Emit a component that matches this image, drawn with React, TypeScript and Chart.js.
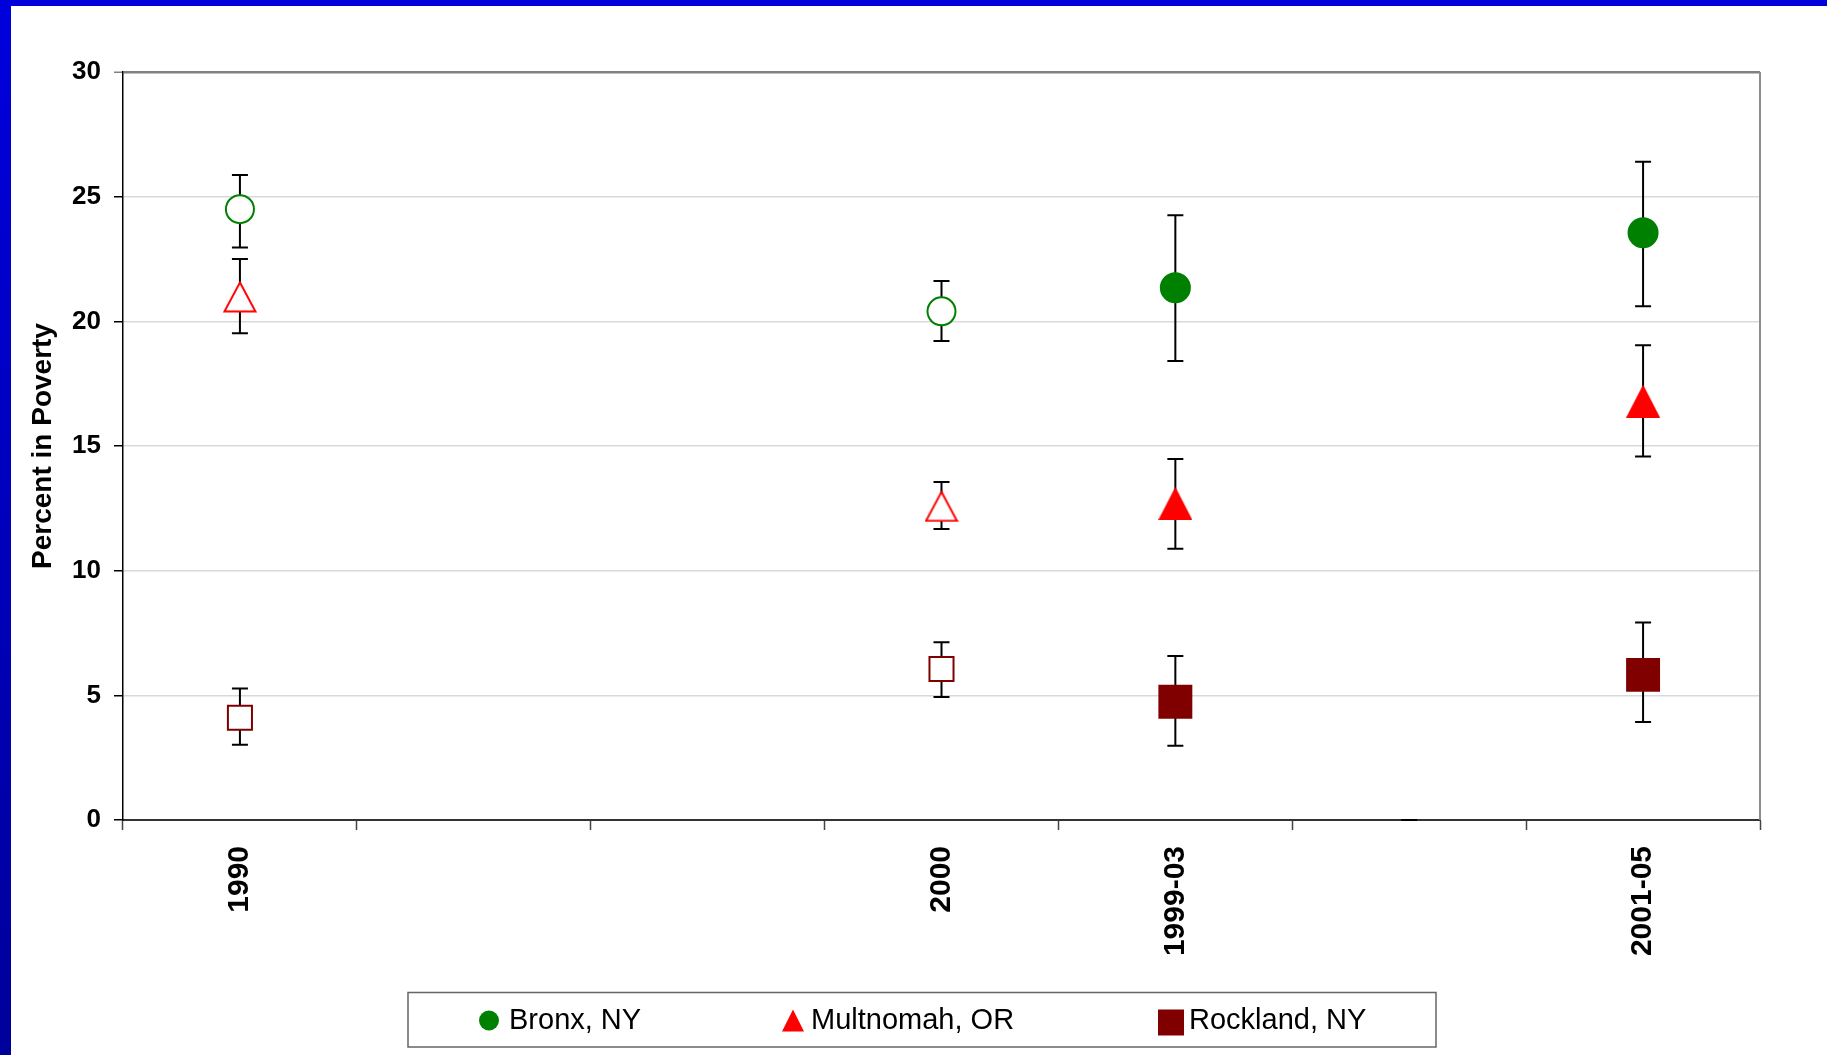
import React, { useEffect, useRef } from 'react';
import { Chart, registerables } from 'chart.js';

Chart.register(...registerables);

// ---------- data ----------
const categories = ['1990', '', '', '2000', '1999-03', '', '2001-05'];
// decennial census points are drawn with open markers, survey estimates filled
const openMarker = [true, false, false, true, false, false, false];

const seriesNames = ['Bronx, NY', 'Multnomah, OR', 'Rockland, NY'];

const bronxValues = [24.5, null, null, 20.4, 21.35, null, 23.55];
const bronxUpper = [25.87, null, null, 21.62, 24.25, null, 26.4];
const bronxLower = [22.96, null, null, 19.21, 18.41, null, 20.6];

const multnomahValues = [21.0, null, null, 12.6, 12.7, null, 16.8];
const multnomahUpper = [22.5, null, null, 13.56, 14.48, null, 19.04];
const multnomahLower = [19.52, null, null, 11.67, 10.88, null, 14.58];

const rocklandValues = [4.1, null, null, 6.06, 4.74, null, 5.82];
const rocklandUpper = [5.27, null, null, 7.13, 6.58, null, 7.92];
const rocklandLower = [3.02, null, null, 4.93, 2.98, null, 3.93];

// a stray zero-valued point with a zero-width error bar in the empty slot
const blankValues = [null, null, null, null, null, 0, null];
const blankUpper = [null, null, null, null, null, 0, null];
const blankLower = [null, null, null, null, null, 0, null];

const yMin = 0;
const yMax = 30;
const yStep = 5;

// ---------- styles ----------
const GREEN = '#008000';
const RED = '#ff0000';
const MAROON = '#800000';
const FONT = "'Liberation Sans', Arial, Helvetica, sans-serif";

const errorBounds = [
  { upper: bronxUpper, lower: bronxLower },
  { upper: multnomahUpper, lower: multnomahLower },
  { upper: rocklandUpper, lower: rocklandLower },
  { upper: blankUpper, lower: blankLower },
];

function makeTriangle(fill: string, stroke: string | null, w: number, h: number) {
  const c = document.createElement('canvas');
  c.width = w;
  c.height = h;
  const g = c.getContext('2d') as CanvasRenderingContext2D;
  const side = stroke ? 1.5 : 0;
  const apex = stroke ? 2.5 : 0;
  g.beginPath();
  g.moveTo(w / 2, apex);
  g.lineTo(w - side, h - side);
  g.lineTo(side, h - side);
  g.closePath();
  g.fillStyle = fill;
  g.fill();
  if (stroke) {
    g.lineWidth = 2;
    g.strokeStyle = stroke;
    g.stroke();
  }
  return c;
}

const errorBarPlugin = {
  id: 'errorBars',
  beforeDatasetsDraw(chart: any) {
    const ctx = chart.ctx as CanvasRenderingContext2D;
    const yScale = chart.scales.y;
    ctx.save();
    ctx.strokeStyle = '#000';
    ctx.lineWidth = 2;
    errorBounds.forEach((b, di) => {
      const meta = chart.getDatasetMeta(di);
      meta.data.forEach((pt: any, j: number) => {
        const up = b.upper[j];
        const lo = b.lower[j];
        if (up == null || lo == null) return;
        const x = pt.x;
        const yU = yScale.getPixelForValue(up);
        const yL = yScale.getPixelForValue(lo);
        ctx.beginPath();
        ctx.moveTo(x, yU);
        ctx.lineTo(x, yL);
        ctx.moveTo(x - 8, yU);
        ctx.lineTo(x + 8, yU);
        ctx.moveTo(x - 8, yL);
        ctx.lineTo(x + 8, yL);
        ctx.stroke();
      });
    });
    // right frame edge
    const a = chart.chartArea;
    ctx.strokeStyle = '#8c8c8c';
    ctx.lineWidth = 2;
    ctx.beginPath();
    ctx.moveTo(a.right, a.top);
    ctx.lineTo(a.right, a.bottom);
    ctx.stroke();
    ctx.restore();
  },
};

const legendPlugin = {
  id: 'boxLegend',
  afterDraw(chart: any) {
    const ctx = chart.ctx as CanvasRenderingContext2D;
    ctx.save();
    ctx.strokeStyle = '#666';
    ctx.lineWidth = 1.5;
    ctx.strokeRect(408, 992.5, 1028, 54.5);

    const cy = 1020.5;
    // Bronx marker
    ctx.fillStyle = GREEN;
    ctx.beginPath();
    ctx.arc(489, cy, 10, 0, Math.PI * 2);
    ctx.fill();
    // Multnomah marker
    ctx.fillStyle = RED;
    ctx.beginPath();
    ctx.moveTo(793, cy - 11);
    ctx.lineTo(804, cy + 11);
    ctx.lineTo(782, cy + 11);
    ctx.closePath();
    ctx.fill();
    // Rockland marker
    ctx.fillStyle = MAROON;
    ctx.fillRect(1158, cy - 11, 26, 26);

    ctx.fillStyle = '#000';
    ctx.font = `29px ${FONT}`;
    ctx.textBaseline = 'middle';
    ctx.textAlign = 'left';
    ctx.fillText(seriesNames[0], 509, cy);
    ctx.fillText(seriesNames[1], 811, cy);
    ctx.fillText(seriesNames[2], 1189, cy);
    ctx.restore();
  },
};

export default function App() {
  const canvasRef = useRef<HTMLCanvasElement | null>(null);

  useEffect(() => {
    const canvas = canvasRef.current;
    if (!canvas) return;
    const triOpen = makeTriangle('#ffffff', RED, 34, 33);
    const triFilled = makeTriangle(RED, null, 34, 33);

    const chart = new Chart(canvas, {
      type: 'line',
      data: {
        labels: categories,
        datasets: [
          {
            label: seriesNames[0],
            data: bronxValues as any,
            showLine: false,
            pointStyle: 'circle',
            pointRadius: openMarker.map((o) => (o ? 14 : 15.5)),
            pointHoverRadius: openMarker.map((o) => (o ? 14 : 15.5)),
            pointBackgroundColor: openMarker.map((o) => (o ? '#ffffff' : GREEN)),
            pointBorderColor: GREEN,
            pointBorderWidth: openMarker.map((o) => (o ? 2 : 0)),
            backgroundColor: GREEN,
            borderColor: GREEN,
          },
          {
            label: seriesNames[1],
            data: multnomahValues as any,
            showLine: false,
            pointStyle: openMarker.map((o) => (o ? triOpen : triFilled)) as any,
            pointRadius: 17,
            pointHoverRadius: 17,
            pointBackgroundColor: RED,
            pointBorderColor: RED,
            pointBorderWidth: 0,
            backgroundColor: RED,
            borderColor: RED,
          },
          {
            label: seriesNames[2],
            data: rocklandValues as any,
            showLine: false,
            pointStyle: 'rect',
            pointRadius: openMarker.map((o) => (o ? 17 : 24)),
            pointHoverRadius: openMarker.map((o) => (o ? 17 : 24)),
            pointBackgroundColor: openMarker.map((o) => (o ? '#ffffff' : MAROON)),
            pointBorderColor: MAROON,
            pointBorderWidth: openMarker.map((o) => (o ? 2 : 0)),
            backgroundColor: MAROON,
            borderColor: MAROON,
          },
          {
            label: '',
            data: blankValues as any,
            showLine: false,
            pointRadius: 0,
            pointHoverRadius: 0,
          },
        ],
      },
      options: {
        responsive: false,
        animation: false,
        devicePixelRatio: 1,
        events: [],
        layout: { padding: { left: 0, top: 72, right: 67, bottom: 0 } },
        plugins: {
          legend: { display: false },
          tooltip: { enabled: false },
          title: { display: false },
        },
        scales: {
          x: {
            type: 'category',
            offset: true,
            grid: {
              offset: true,
              drawOnChartArea: false,
              drawTicks: true,
              tickLength: 10,
              tickColor: '#444',
              tickWidth: 1.5,
            },
            border: { color: '#333', width: 2 },
            ticks: {
              autoSkip: false,
              minRotation: 90,
              maxRotation: 90,
              padding: 16,
              color: '#000',
              font: { family: FONT, size: 30, weight: 'bold' },
            },
            afterFit: (s: any) => {
              s.height = 235;
            },
          },
          y: {
            min: yMin,
            max: yMax,
            ticks: {
              stepSize: yStep,
              padding: 13,
              color: '#000',
              font: { family: FONT, size: 26, weight: 'bold' },
            },
            grid: {
              color: (c: any) => (c.tick && c.tick.value === yMax ? '#808080' : '#d9d9d9'),
              lineWidth: (c: any) => (c.tick && c.tick.value === yMax ? 2.5 : 1.5),
              tickLength: 9,
              tickColor: (c: any) => (c.tick && c.tick.value === yMax ? '#808080' : '#000'),
              tickWidth: 1.5,
              drawTicks: true,
            },
            border: { color: '#000', width: 1.5 },
            title: {
              display: true,
              text: 'Percent in Poverty',
              color: '#000',
              font: { family: FONT, size: 28, weight: 'bold' },
              padding: { top: 26, bottom: 0 },
            },
            afterFit: (s: any) => {
              s.width = 123;
            },
          },
        },
      },
      plugins: [errorBarPlugin, legendPlugin],
    } as any);

    return () => {
      chart.destroy();
    };
  }, []);

  return (
    <div
      style={{
        position: 'fixed',
        left: 0,
        top: 0,
        width: 1827,
        height: 1055,
        background: 'linear-gradient(to bottom, #0000dd, #00009a)',
        overflow: 'hidden',
      }}
    >
      <div
        style={{
          position: 'absolute',
          left: 11,
          top: 6,
          right: 0,
          bottom: 0,
          background: '#ffffff',
        }}
      />
      <canvas
        ref={canvasRef}
        width={1827}
        height={1055}
        style={{ position: 'absolute', left: 0, top: 0, width: 1827, height: 1055 }}
      />
    </div>
  );
}
